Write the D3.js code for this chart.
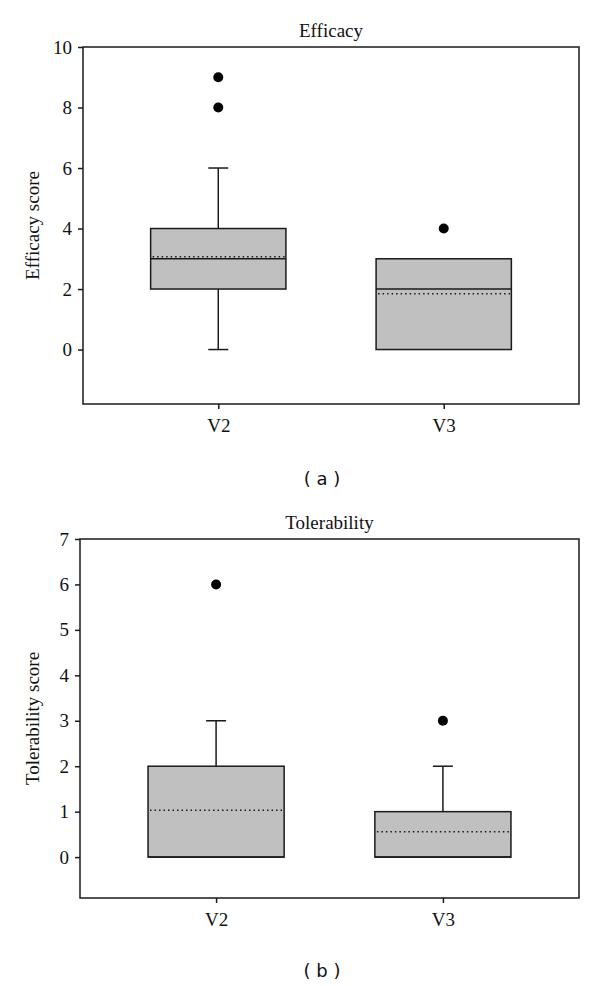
<!DOCTYPE html>
<html><head><meta charset="utf-8">
<script src="https://cdn.jsdelivr.net/npm/d3@7"></script>
<style>body{margin:0;background:#fff}svg{display:block}</style>
</head><body>
<script>
const categories = ["V2", "V3"];

// Panel (a) Efficacy
const efficacyTicks = [0, 2, 4, 6, 8, 10];
const efficacyWhiskerLow = [0, 0];
const efficacyQ1 = [2, 0];
const efficacyMedian = [3, 2];
const efficacyQ3 = [4, 3];
const efficacyWhiskerHigh = [6, 3];
const efficacyMean = [3.07, 1.84];
const efficacyOutliers = [[8, 9], [4]];

// Panel (b) Tolerability
const tolerabilityTicks = [0, 1, 2, 3, 4, 5, 6, 7];
const tolerabilityWhiskerLow = [0, 0];
const tolerabilityQ1 = [0, 0];
const tolerabilityMedian = [0, 0];
const tolerabilityQ3 = [2, 1];
const tolerabilityWhiskerHigh = [3, 2];
const tolerabilityMean = [1.03, 0.56];
const tolerabilityOutliers = [[6], [3]];

const svg = d3.select("body").append("svg").attr("width", 600).attr("height", 986);
const serif = "'Liberation Serif','DejaVu Serif',serif";

function panel(cfg) {
  const g = svg.append("g");
  const x = d3.scalePoint().domain(categories).range([cfg.left, cfg.right]).padding(0.6);
  const y = d3.scaleLinear().domain(cfg.domain).range([cfg.bottom, cfg.top]);
  const bw = x.step() * 0.6;
  const cap = 20;
  const ink = "#1a1a1a";

  categories.forEach((c, i) => {
    const cx = x(c);
    const bg = g.append("g");
    if (cfg.hi[i] > cfg.q3[i]) {
      bg.append("line").attr("x1", cx).attr("x2", cx).attr("y1", y(cfg.q3[i])).attr("y2", y(cfg.hi[i])).attr("stroke", ink).attr("stroke-width", 1.5);
      bg.append("line").attr("x1", cx - cap / 2).attr("x2", cx + cap / 2).attr("y1", y(cfg.hi[i])).attr("y2", y(cfg.hi[i])).attr("stroke", ink).attr("stroke-width", 1.5);
    }
    if (cfg.lo[i] < cfg.q1[i]) {
      bg.append("line").attr("x1", cx).attr("x2", cx).attr("y1", y(cfg.q1[i])).attr("y2", y(cfg.lo[i])).attr("stroke", ink).attr("stroke-width", 1.5);
      bg.append("line").attr("x1", cx - cap / 2).attr("x2", cx + cap / 2).attr("y1", y(cfg.lo[i])).attr("y2", y(cfg.lo[i])).attr("stroke", ink).attr("stroke-width", 1.5);
    }
    bg.append("rect").attr("x", cx - bw / 2).attr("width", bw)
      .attr("y", y(cfg.q3[i])).attr("height", y(cfg.q1[i]) - y(cfg.q3[i]))
      .attr("fill", "#c0c0c0").attr("stroke", ink).attr("stroke-width", 1.5);
    bg.append("line").attr("x1", cx - bw / 2).attr("x2", cx + bw / 2)
      .attr("y1", y(cfg.med[i])).attr("y2", y(cfg.med[i])).attr("stroke", ink).attr("stroke-width", 1.5);
    bg.append("line").attr("x1", cx - bw / 2 + 2).attr("x2", cx + bw / 2)
      .attr("y1", y(cfg.mean[i])).attr("y2", y(cfg.mean[i])).attr("stroke", ink).attr("stroke-width", 1.5)
      .attr("stroke-dasharray", "1.5,3");
    cfg.out[i].forEach(v => {
      bg.append("circle").attr("cx", cx).attr("cy", y(v)).attr("r", 5).attr("fill", "#000");
    });
  });

  g.append("rect").attr("x", cfg.left).attr("y", cfg.top).attr("width", cfg.right - cfg.left)
    .attr("height", cfg.bottom - cfg.top).attr("fill", "none").attr("stroke", ink).attr("stroke-width", 1.5);

  const ya = g.append("g").attr("transform", `translate(${cfg.left},0)`)
    .call(d3.axisLeft(y).tickValues(cfg.ticks).tickSize(5).tickPadding(6).tickFormat(d3.format("d")));
  ya.select(".domain").remove();
  ya.selectAll("line").attr("stroke", ink).attr("stroke-width", 1.5);
  ya.selectAll("text").attr("font-family", serif).attr("font-size", 19).attr("fill", "#111");

  const xa = g.append("g").attr("transform", `translate(0,${cfg.bottom})`)
    .call(d3.axisBottom(x).tickSize(5).tickPadding(10));
  xa.select(".domain").remove();
  xa.selectAll("line").attr("stroke", ink).attr("stroke-width", 1.5);
  xa.selectAll("text").attr("font-family", serif).attr("font-size", 19).attr("fill", "#111");

  g.append("text").attr("x", (cfg.left + cfg.right) / 2).attr("y", cfg.top - 10)
    .attr("text-anchor", "middle").attr("font-family", serif).attr("font-size", 19).attr("fill", "#111")
    .text(cfg.title);
  g.append("text").attr("transform", `translate(39,${(cfg.top + cfg.bottom) / 2}) rotate(-90)`)
    .attr("text-anchor", "middle").attr("font-family", serif).attr("font-size", 19).attr("fill", "#111")
    .text(cfg.ylabel);
  g.append("text").attr("x", 322).attr("y", cfg.panelY)
    .attr("text-anchor", "middle").attr("font-family", "'DejaVu Sans',sans-serif").attr("font-size", 18).attr("fill", "#111")
    .text(cfg.panel);
}

panel({
  left: 83, right: 579, top: 47, bottom: 404, domain: [-1.8, 10],
  ticks: efficacyTicks, lo: efficacyWhiskerLow, q1: efficacyQ1, med: efficacyMedian,
  q3: efficacyQ3, hi: efficacyWhiskerHigh, mean: efficacyMean, out: efficacyOutliers,
  title: "Efficacy", ylabel: "Efficacy score", panel: "( a )", panelY: 485
});
panel({
  left: 80, right: 579, top: 539, bottom: 898, domain: [-0.9, 7],
  ticks: tolerabilityTicks, lo: tolerabilityWhiskerLow, q1: tolerabilityQ1, med: tolerabilityMedian,
  q3: tolerabilityQ3, hi: tolerabilityWhiskerHigh, mean: tolerabilityMean, out: tolerabilityOutliers,
  title: "Tolerability", ylabel: "Tolerability score", panel: "( b )", panelY: 977
});
</script>
</body></html>
